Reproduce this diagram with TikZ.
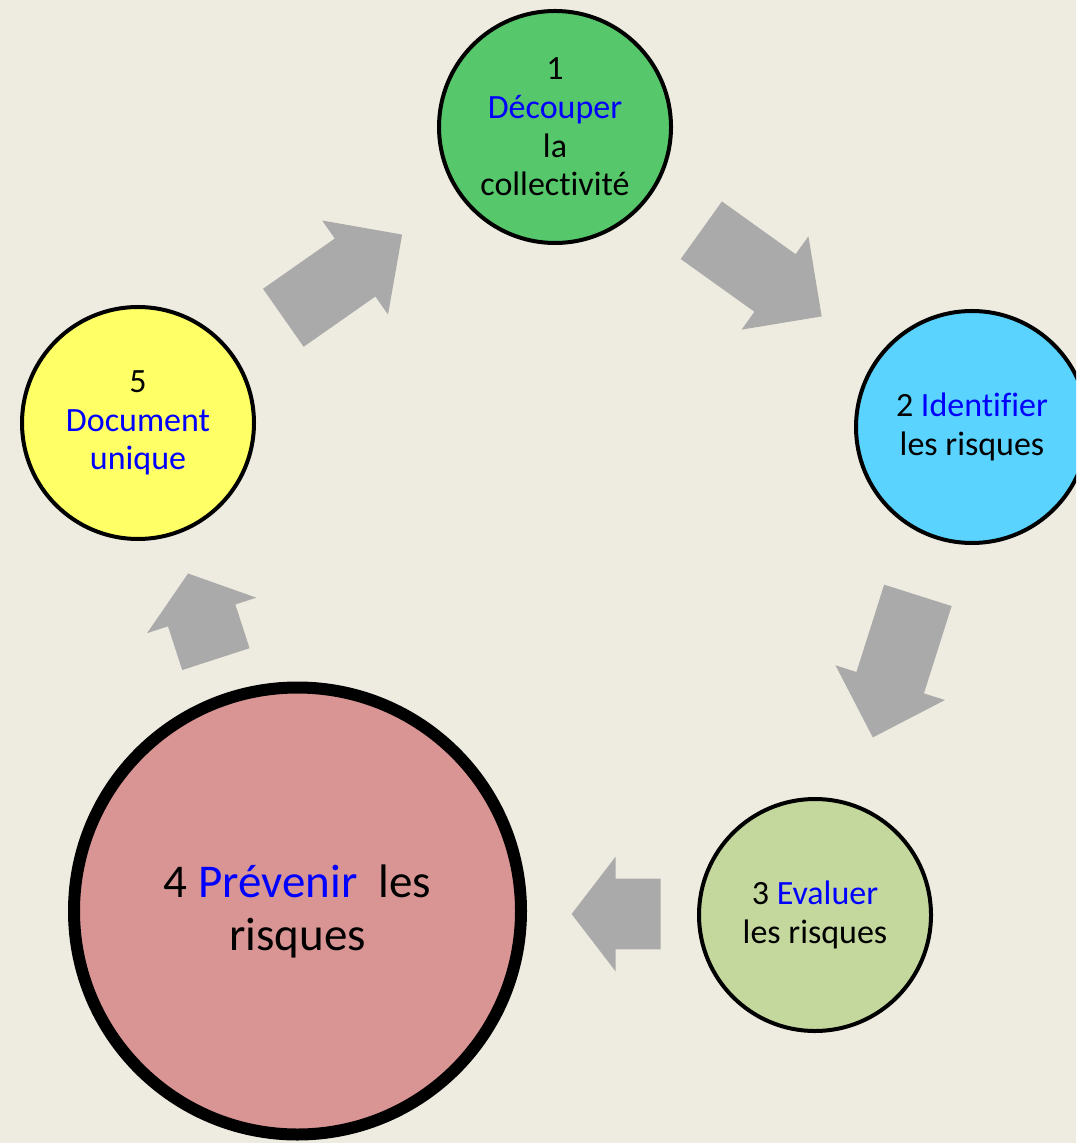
\documentclass[tikz,border=0pt]{standalone}
\usepackage{fontspec}
\setmainfont{Carlito}[Ligatures=NoCommon]
\usetikzlibrary{shapes.arrows, positioning}
\definecolor{fond}{RGB}{238,235,224}
\definecolor{vert}{RGB}{87,199,108}
\definecolor{cyan}{RGB}{91,211,255}
\definecolor{olive}{RGB}{196,215,157}
\definecolor{rose}{RGB}{217,149,148}
\definecolor{jaune}{RGB}{255,255,102}
\definecolor{gris}{RGB}{170,170,170}

\begin{document}
\begin{tikzpicture}[x=0.5pt, y=-0.5pt]

    \useasboundingbox (0,0) rectangle (1076,1143); % size of the slide picture, in px
    \fill [fond] (0,0) rectangle (1076,1143);
    \clip (0,0) rectangle (1076,1143);

    % the steps: same circle for 1, 2, 3 and 5, step 4 is the big one
    \begin{scope}[every node/.style={circle, draw, line width=2pt, minimum size=116pt, inner sep=0pt,
                                     align=center, font=\fontsize{17}{19.3}\selectfont}]

    \node [fill=vert]  (s1) at (555,127) {1\\\textcolor{blue}{Découper}\\la\\collectivité};
    \node [fill=cyan]  (s2) at (972,427) {2 \textcolor{blue}{Identifier}\\les risques};
    \node [fill=olive] (s3) at (815,915) {3 \textcolor{blue}{Evaluer}\\les risques};
    \node [fill=jaune] (s5) at (138,423) {5\\\textcolor{blue}{Document}\\\textcolor{blue}{unique}};

    \node [fill=rose, line width=6pt, minimum size=223.5pt, font=\fontsize{23.5}{26.5}\selectfont]
          (s4) at (297.5,911) {4 \textcolor{blue}{Prévenir}\ \ les\\risques};

    \end{scope}

    % grey block arrows going round, placed by their tail
    % (shaft = 2 x inner ysep, head = shaft + 2 x head extend)
    \begin{scope}[every node/.style={single arrow, fill=gris, inner xsep=0pt, inner ysep=17.5pt,
                                     minimum width=0pt, single arrow head extend=11pt, anchor=tail}]

    \node [minimum height=72.5pt, rotate=35]     (a12) at (283,318) {};
    \node [minimum height=74pt,   rotate=-35.6]  (a23) at (701,230) {};
    \node [minimum height=74.5pt, rotate=-107.6] (a34) at (918,595) {};
    \node [minimum height=44.5pt, rotate=180,  single arrow tip angle=105] (a45) at (661,914) {};
    \node [minimum height=45pt,   rotate=108,  single arrow tip angle=105] (a51) at (216,659.5) {};

    \end{scope}

\end{tikzpicture}
\end{document}
